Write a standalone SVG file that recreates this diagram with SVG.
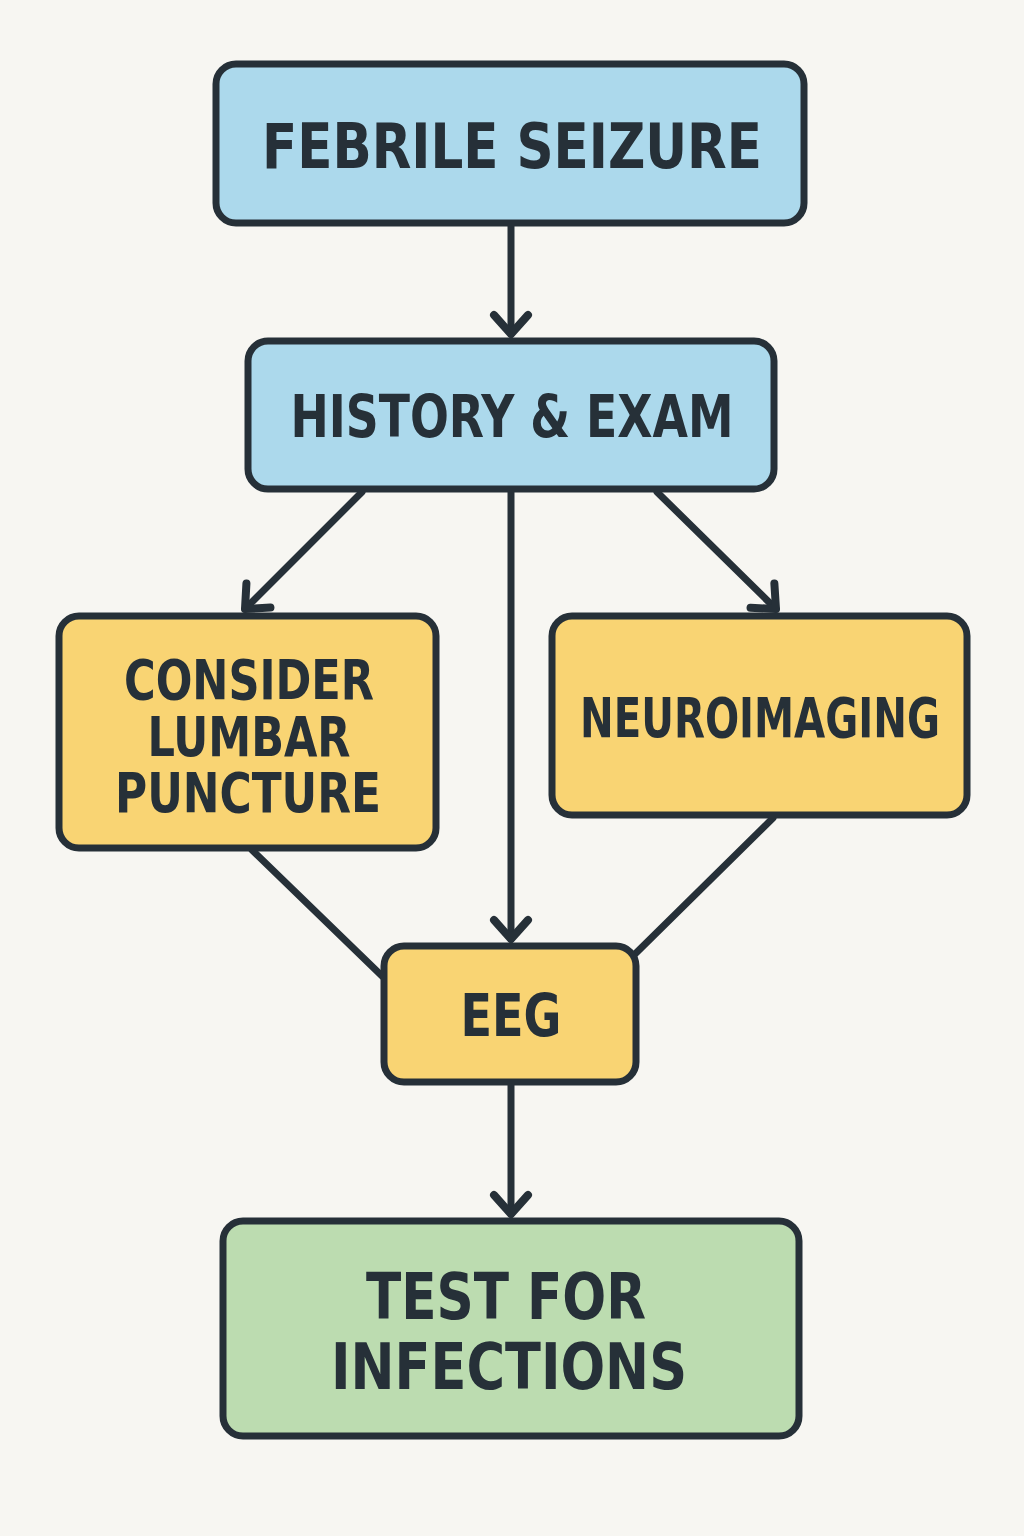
<svg xmlns="http://www.w3.org/2000/svg" width="1024" height="1536" viewBox="0 0 1024 1536">
<style>
.box{stroke:#263038;stroke-width:7}
.blue{fill:#acd9ec}
.yel{fill:#f9d473}
.grn{fill:#bcdcb0}
.t{font-family:"DejaVu Sans Condensed","DejaVu Sans","Liberation Sans",sans-serif;font-weight:700;fill:#263038;text-anchor:middle}
.c{stroke:#263038;stroke-width:7;fill:none;stroke-linecap:round}
</style>
<defs>
<marker id="ah" markerUnits="userSpaceOnUse" markerWidth="50" markerHeight="50" refX="25" refY="25" orient="auto" viewBox="0 0 50 50">
<path d="M6,8 L25,25 L6,42" fill="none" stroke="#263038" stroke-width="8" stroke-linecap="round" stroke-linejoin="round"/>
</marker>
</defs>
<rect width="1024" height="1536" fill="#f7f6f2"/>
<g id="connectors">
<line class="c" x1="511" y1="226" x2="511" y2="334" marker-end="url(#ah)"/>
<line class="c" x1="362" y1="492" x2="245" y2="609" marker-end="url(#ah)"/>
<line class="c" x1="511" y1="492" x2="511" y2="939" marker-end="url(#ah)"/>
<line class="c" x1="657" y1="492" x2="776" y2="609" marker-end="url(#ah)"/>
<line class="c" x1="252" y1="850" x2="382" y2="976"/>
<line class="c" x1="773" y1="818" x2="634" y2="955"/>
<line class="c" x1="511" y1="1085" x2="511" y2="1214" marker-end="url(#ah)"/>
</g>
<g id="febrile">
<rect class="box blue" x="216" y="64" width="588" height="159" rx="20"/>
<text class="t" x="512" y="168" font-size="62" textLength="500" lengthAdjust="spacingAndGlyphs">FEBRILE SEIZURE</text>
</g>
<g id="history">
<rect class="box blue" x="248" y="341" width="526" height="148" rx="20"/>
<text class="t" x="512" y="437" font-size="58" textLength="443" lengthAdjust="spacingAndGlyphs">HISTORY &amp; EXAM</text>
</g>
<g id="lumbar">
<rect class="box yel" x="59" y="616" width="377" height="232" rx="20"/>
<text class="t" x="249" y="699" font-size="56" textLength="250" lengthAdjust="spacingAndGlyphs">CONSIDER</text>
<text class="t" x="249" y="756" font-size="56" textLength="203" lengthAdjust="spacingAndGlyphs">LUMBAR</text>
<text class="t" x="248" y="812" font-size="56" textLength="266" lengthAdjust="spacingAndGlyphs">PUNCTURE</text>
</g>
<g id="neuro">
<rect class="box yel" x="552" y="616" width="415" height="199" rx="20"/>
<text class="t" x="760" y="737" font-size="56" textLength="360" lengthAdjust="spacingAndGlyphs">NEUROIMAGING</text>
</g>
<g id="eeg">
<rect class="box yel" x="384" y="946" width="252" height="136" rx="20"/>
<text class="t" x="511" y="1036" font-size="58" textLength="101" lengthAdjust="spacingAndGlyphs">EEG</text>
</g>
<g id="test">
<rect class="box grn" x="223" y="1221" width="576" height="215" rx="20"/>
<text class="t" x="506" y="1319" font-size="64" textLength="280" lengthAdjust="spacingAndGlyphs">TEST FOR</text>
<text class="t" x="509" y="1389" font-size="64" textLength="356" lengthAdjust="spacingAndGlyphs">INFECTIONS</text>
</g>
</svg>
